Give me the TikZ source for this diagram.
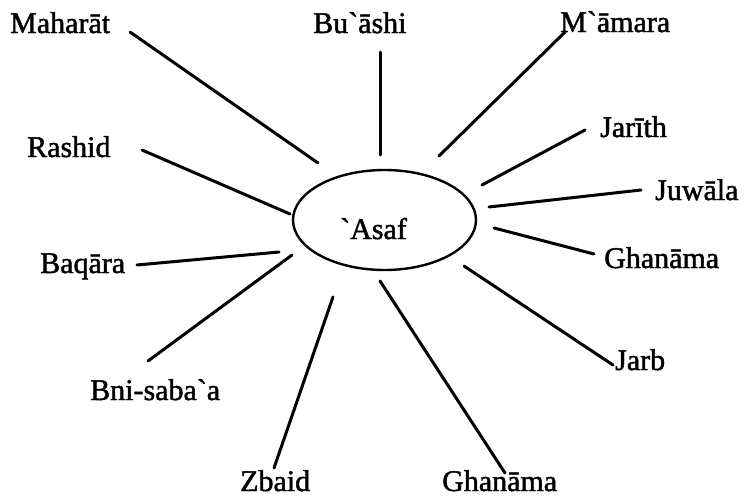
\documentclass[tikz,border=0pt]{standalone}
\usepackage{fontspec}
\newfontfamily\tribefont{Liberation Serif}[FakeBold=1.5]
\usetikzlibrary{shapes.geometric}

\begin{document}
\begin{tikzpicture}[x=1pt, y=-1pt,
    hub/.style={ellipse, draw, line width=2.4pt, minimum width=183pt,
                minimum height=100pt, inner sep=0pt},
    tribe/.style={anchor=base west, inner sep=0pt,
                  font=\tribefont\fontsize{30}{36}\selectfont},
    spoke/.style={line width=3pt, line cap=round}
]
\useasboundingbox (0,0) rectangle (744,498);

% centre
\node[hub] (asaf) at (384.5,220) {};
\node[tribe] (asaf-t) at (340,239) {`Asaf};

% tribes round it
\node[tribe] (mah) at (10,33) {Maharāt};
\node[tribe] (bua) at (313,33) {Bu`āshi};
\node[tribe] (mam) at (560,32) {M`āmara};
\node[tribe] (jar) at (600,137) {Jarīth};
\node[tribe] (juw) at (655,200) {Juwāla};
\node[tribe] (gha) at (604,268) {Ghanāma};
\node[tribe] (jrb) at (615,370) {Jarb};
\node[tribe] (ghb) at (442,491) {Ghanāma};
\node[tribe] (zba) at (240,491) {Zbaid};
\node[tribe] (bni) at (90,400) {Bni-saba`a};
\node[tribe] (baq) at (40,273) {Baqāra};
\node[tribe] (ras) at (27,157) {Rashid};

% spoke ends
\coordinate (mah-o) at (130,32);  \coordinate (mah-i) at (318,163);
\coordinate (bua-o) at (380,52);  \coordinate (bua-i) at (380,155);
\coordinate (mam-o) at (565,32);  \coordinate (mam-i) at (439,156);
\coordinate (jar-o) at (585,130); \coordinate (jar-i) at (482,185);
\coordinate (juw-o) at (641,190); \coordinate (juw-i) at (489,207);
\coordinate (gha-o) at (594,254); \coordinate (gha-i) at (494,228);
\coordinate (jrb-o) at (613,365); \coordinate (jrb-i) at (464,266);
\coordinate (ghb-o) at (505,473); \coordinate (ghb-i) at (380,281);
\coordinate (zba-o) at (274,468); \coordinate (zba-i) at (333,297);
\coordinate (bni-o) at (148,361); \coordinate (bni-i) at (292,255);
\coordinate (baq-o) at (137,265); \coordinate (baq-i) at (279,252);
\coordinate (ras-o) at (142,150); \coordinate (ras-i) at (290,214);

\draw[spoke] (mah-o) -- (mah-i);
\draw[spoke] (bua-o) -- (bua-i);
\draw[spoke] (mam-o) -- (mam-i);
\draw[spoke] (jar-o) -- (jar-i);
\draw[spoke] (juw-o) -- (juw-i);
\draw[spoke] (gha-o) -- (gha-i);
\draw[spoke] (jrb-o) -- (jrb-i);
\draw[spoke] (ghb-o) -- (ghb-i);
\draw[spoke] (zba-o) -- (zba-i);
\draw[spoke] (bni-o) -- (bni-i);
\draw[spoke] (baq-o) -- (baq-i);
\draw[spoke] (ras-o) -- (ras-i);
\end{tikzpicture}
\end{document}
